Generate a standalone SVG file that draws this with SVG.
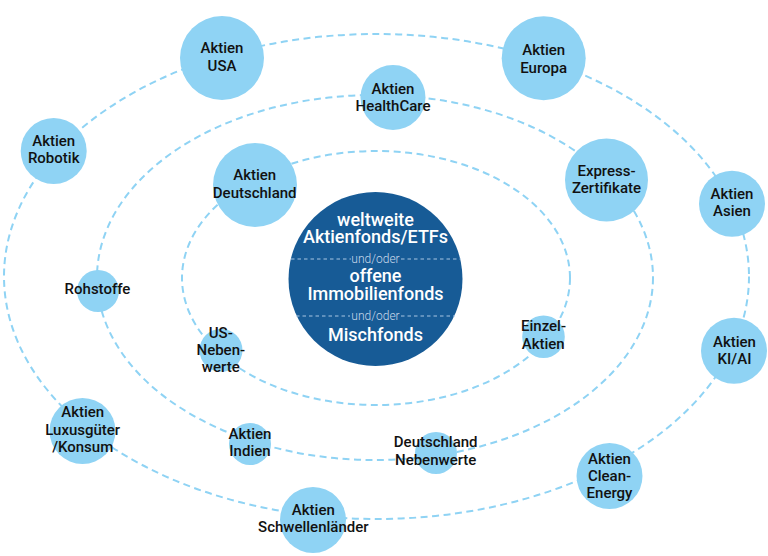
<svg xmlns="http://www.w3.org/2000/svg" width="768" height="556" viewBox="0 0 768 556">
<style>
.ring{fill:none;stroke:#8fd3f4;stroke-width:2;stroke-dasharray:7 4.5}
.node{fill:#8fd3f4}
.lbl{font-family:Roboto,"Liberation Sans",sans-serif;font-weight:500;font-size:15px;fill:#111;text-anchor:middle}
.ctr{font-family:Roboto,"Liberation Sans",sans-serif;font-weight:500;font-size:18px;fill:#fff;text-anchor:middle}
.sep{stroke:#a9c6e2;stroke-width:1;stroke-dasharray:3.5 3}
.uo{font-family:Roboto,"Liberation Sans",sans-serif;font-weight:300;font-size:12px;fill:#c9d9ea;text-anchor:middle}
</style>
<rect width="768" height="556" fill="#fff"/>
<g id="connectors">
<ellipse class="ring" cx="376.5" cy="276.5" rx="372.5" ry="242.5"/>
<ellipse class="ring" cx="375" cy="277.5" rx="278" ry="182.5"/>
<ellipse class="ring" cx="376" cy="278" rx="194" ry="127"/>
</g>
<g id="center">
<circle cx="375.5" cy="279" r="87" fill="#175b96"/>
<line class="sep" x1="291" y1="259" x2="351" y2="259"/>
<line class="sep" x1="401" y1="259" x2="461" y2="259"/>
<line class="sep" x1="296" y1="316" x2="350" y2="316"/>
<line class="sep" x1="401" y1="316" x2="455" y2="316"/>
<text class="uo" x="375.5" y="262.5">und/oder</text>
<text class="uo" x="375.5" y="319.5">und/oder</text>
<text class="ctr" x="375.5" y="225.5">weltweite</text>
<text class="ctr" x="375.5" y="243.3">Aktienfonds/ETFs</text>
<text class="ctr" x="375.5" y="282.3">offene</text>
<text class="ctr" x="375.5" y="300">Immobilienfonds</text>
<text class="ctr" x="375.5" y="340.5">Mischfonds</text>
</g>
<g id="n-usa"><circle class="node" cx="222" cy="58" r="42"/><text class="lbl" x="222" y="53.3">Aktien</text><text class="lbl" x="222" y="70.7">USA</text></g>
<g id="n-europa"><circle class="node" cx="543.7" cy="58.3" r="42"/><text class="lbl" x="543.7" y="55">Aktien</text><text class="lbl" x="543.7" y="72.5">Europa</text></g>
<g id="n-robotik"><circle class="node" cx="53.7" cy="151" r="33"/><text class="lbl" x="53.7" y="145.7">Aktien</text><text class="lbl" x="53.7" y="162.7">Robotik</text></g>
<g id="n-healthcare"><circle class="node" cx="393" cy="97.5" r="32.5"/><text class="lbl" x="393" y="93.5">Aktien</text><text class="lbl" x="393" y="111">HealthCare</text></g>
<g id="n-deutschland"><circle class="node" cx="255" cy="185" r="42"/><text class="lbl" x="254.7" y="180.3">Aktien</text><text class="lbl" x="254.7" y="197.7">Deutschland</text></g>
<g id="n-express"><circle class="node" cx="606.5" cy="180" r="41.5"/><text class="lbl" x="606.5" y="176">Express-</text><text class="lbl" x="606.5" y="193.3">Zertifikate</text></g>
<g id="n-asien"><circle class="node" cx="732" cy="203.7" r="33"/><text class="lbl" x="732" y="199">Aktien</text><text class="lbl" x="732" y="216">Asien</text></g>
<g id="n-rohstoffe"><circle class="node" cx="98" cy="291" r="21"/><text class="lbl" x="97.5" y="294">Rohstoffe</text></g>
<g id="n-usneben"><circle class="node" cx="221" cy="350.3" r="21.5"/><text class="lbl" x="220.8" y="338">US-</text><text class="lbl" x="220.8" y="355.3">Neben-</text><text class="lbl" x="220.8" y="372.3">werte</text></g>
<g id="n-einzel"><circle class="node" cx="543.5" cy="336.7" r="21.3"/><text class="lbl" x="543.5" y="331.3">Einzel-</text><text class="lbl" x="543.2" y="348.7">Aktien</text></g>
<g id="n-kiai"><circle class="node" cx="734" cy="350.7" r="33"/><text class="lbl" x="734.5" y="347">Aktien</text><text class="lbl" x="734.5" y="364">KI/AI</text></g>
<g id="n-luxus"><circle class="node" cx="82.5" cy="431" r="33"/><text class="lbl" x="82.7" y="417.3">Aktien</text><text class="lbl" x="82.7" y="434.7">Luxusgüter</text><text class="lbl" x="82.7" y="452">/Konsum</text></g>
<g id="n-indien"><circle class="node" cx="250" cy="444" r="21"/><text class="lbl" x="250" y="439">Aktien</text><text class="lbl" x="250" y="455.7">Indien</text></g>
<g id="n-deneben"><circle class="node" cx="436" cy="453" r="21"/><text class="lbl" x="435.7" y="447.3">Deutschland</text><text class="lbl" x="435.7" y="464.7">Nebenwerte</text></g>
<g id="n-clean"><circle class="node" cx="609.5" cy="476" r="33"/><text class="lbl" x="609.5" y="463.7">Aktien</text><text class="lbl" x="609.5" y="481.3">Clean-</text><text class="lbl" x="609.5" y="498">Energy</text></g>
<g id="n-schwellen"><circle class="node" cx="313" cy="520" r="33"/><text class="lbl" x="313.3" y="514.7">Aktien</text><text class="lbl" x="313.3" y="532.3">Schwellenländer</text></g>
</svg>
